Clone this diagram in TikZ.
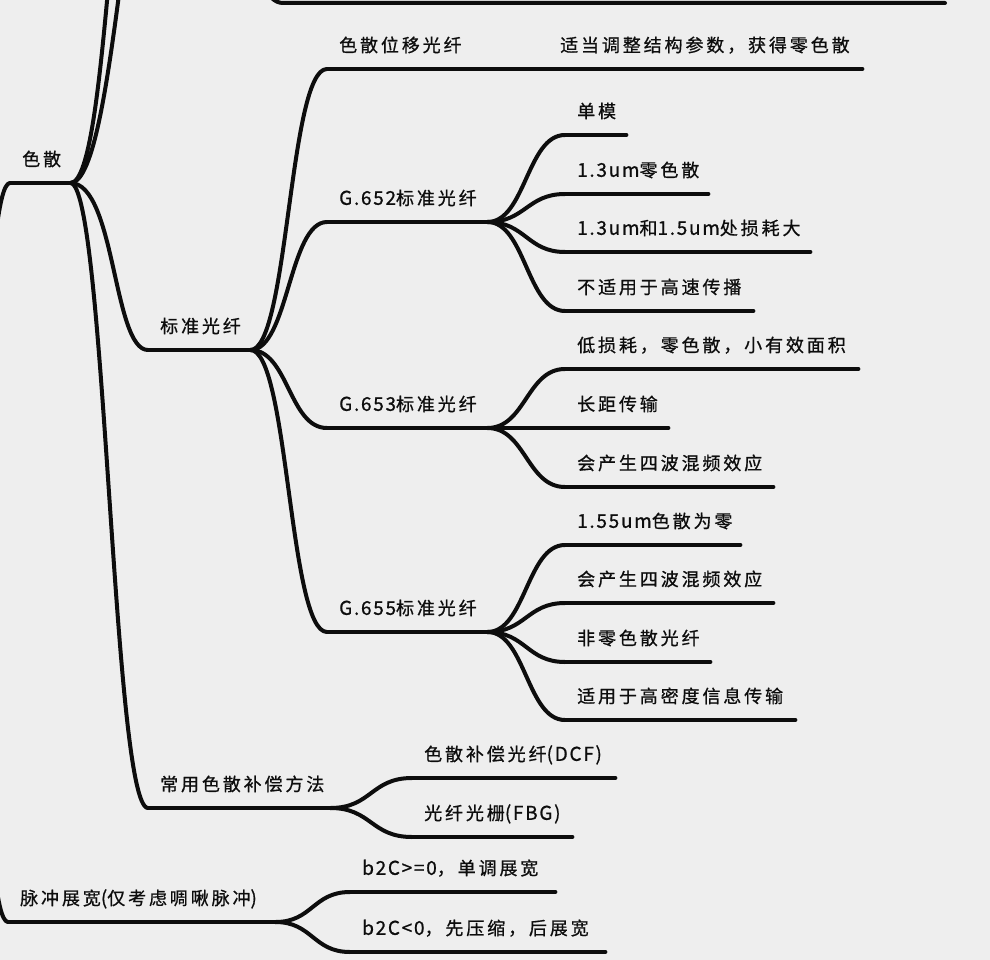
\documentclass[tikz,border=0pt]{standalone}
\usepackage{fontspec}
\newfontfamily\mmfont[LetterSpace=16,FakeBold=0.8]{Noto Sans CJK SC}
\newfontfamily\mmlatfont[LetterSpace=9,FakeBold=0.8]{Noto Sans CJK SC}
\newcommand\mlat[1]{{\mmlatfont\fontsize{19}{20}\selectfont #1}}
\definecolor{bgc}{HTML}{EEEEEE}
\definecolor{ink}{HTML}{0D0D0D}
\newcommand\mmconn[3][38]{\draw[br] (#2.south east) .. controls +(#1,0) and +(-#1,0) .. (#3.south west);}
\begin{document}
\begin{tikzpicture}[x=1pt,y=-1pt,
  br/.style={draw=ink,line width=4pt,line cap=round,line join=round},
  tn/.style={anchor=south west,inner xsep=12pt,inner ysep=12pt,text height=15pt,text depth=5pt,
    align=left,font=\mmfont\fontsize{18}{20}\selectfont,text=ink,text width=#1},
]
\useasboundingbox (0,0) rectangle (990,960);
\fill[bgc] (0,0) rectangle (990,960);
\clip (0,0) rectangle (990,960);

% off-canvas anchors
\coordinate (root) at (-40,550);
\coordinate (upA) at (150,-250);
\coordinate (upB) at (175,-250);
\coordinate (upC) at (215,-120);
\coordinate (topS) at (283,3);
\coordinate (topE) at (945,3);

% nodes
\node[tn=36pt]  (sanse) at (10,183) {色散};
\node[tn=78pt]  (bzgx)  at (148,350) {标准光纤};
\node[tn=121pt] (sswy)  at (327,69) {色散位移光纤};
\node[tn=290pt] (tdtz)  at (548,69) {适当调整结构参数，获得零色散};
\node[tn=136pt] (gA)    at (327,222) {\mlat{G.652}标准光纤};
\node[tn=37pt]  (dm)    at (565,135) {单模};
\node[tn=119pt] (aA)    at (565,194) {\mlat{1.3um}零色散};
\node[tn=221pt] (aB)    at (565,252) {\mlat{1.3um}和\mlat{1.5um}处损耗大};
\node[tn=164pt] (bsy)   at (565,311) {不适用于高速传播};
\node[tn=136pt] (gB)    at (327,428) {\mlat{G.653}标准光纤};
\node[tn=269pt] (dss)   at (565,369) {低损耗，零色散，小有效面积};
\node[tn=79pt]  (cjcs)  at (565,428) {长距传输};
\node[tn=184pt] (sbA)   at (565,487) {会产生四波混频效应};
\node[tn=136pt] (gC)    at (327,632) {\mlat{G.655}标准光纤};
\node[tn=151pt] (aC)    at (565,545) {\mlat{1.55um}色散为零};
\node[tn=184pt] (sbB)   at (565,603) {会产生四波混频效应};
\node[tn=121pt] (flss)  at (565,662) {非零色散光纤};
\node[tn=206pt] (gmd)   at (565,720) {适用于高密度信息传输};
\node[tn=158pt] (cybc)  at (148,808) {常用色散补偿方法};
\node[tn=179pt] (dcf)   at (412,778) {色散补偿光纤\mlat{(DCF)}};
\node[tn=136pt] (fbg)   at (412,837) {光纤光栅\mlat{(FBG)}};
\node[tn=243pt] (mczk)  at (8,922) {脉冲展宽\mlat{(}仅考虑啁啾脉冲\mlat{)}};
\node[tn=181pt] (bA)    at (350,892) {\mlat{b2C>=0}，单调展宽};
\node[tn=231pt] (bB)    at (350,952) {\mlat{b2C<0}，先压缩，后展宽};

% underlines
\foreach \n in {sanse,bzgx,sswy,tdtz,gA,dm,aA,aB,bsy,gB,dss,cjcs,sbA,gC,aC,sbB,flss,gmd,cybc,dcf,fbg,mczk,bA,bB}
  {\draw[br] (\n.south west) -- (\n.south east);}

% connectors
\draw[br] (root) .. controls +(25,0) and +(-25,0) .. (sanse.south west);
\draw[br] (root) .. controls +(25,0) and +(-25,0) .. (mczk.south west);
\draw[br] (sanse.south east) .. controls +(40,0) and +(-40,0) .. (upA);
\draw[br] (sanse.south east) .. controls +(48,0) and +(-48,0) .. (upB);
\draw[br] (upC) .. controls +(35,0) and +(-35,0) .. (topS) -- (topE);
\draw[br] (sanse.south east) .. controls +(45,0) and +(-35,0) .. (bzgx.south west);
\draw[br] (sanse.south east) .. controls +(35,0) and +(-35,0) .. (cybc.south west);
\mmconn{bzgx}{sswy}
\mmconn{sswy}{tdtz}
\mmconn{bzgx}{gA}
\mmconn{bzgx}{gB}
\mmconn{bzgx}{gC}
\mmconn{gA}{dm}
\mmconn{gA}{aA}
\mmconn{gA}{aB}
\mmconn{gA}{bsy}
\mmconn{gB}{dss}
\mmconn{gB}{cjcs}
\mmconn{gB}{sbA}
\mmconn{gC}{aC}
\mmconn{gC}{sbB}
\mmconn{gC}{flss}
\mmconn{gC}{gmd}
\mmconn[41]{cybc}{dcf}
\mmconn[41]{cybc}{fbg}
\mmconn[37]{mczk}{bA}
\mmconn[37]{mczk}{bB}
\end{tikzpicture}
\end{document}
